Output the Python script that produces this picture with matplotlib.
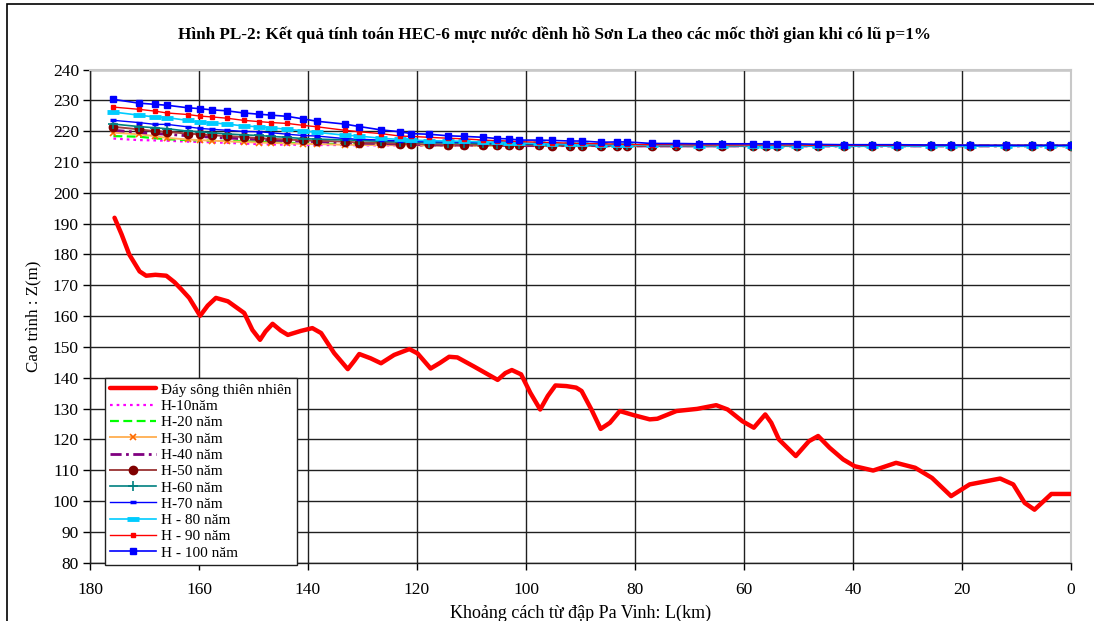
import matplotlib
matplotlib.use("Agg")
import matplotlib.pyplot as plt
from matplotlib.patches import Rectangle

plt.rcParams['font.family'] = ['Liberation Serif', 'DejaVu Serif']

# ---------------- data ----------------
ground_L = [175.5, 174.2, 172.8, 170.9, 169.7, 168.0, 166.0, 164.5, 163.3, 161.8,
            159.8, 158.4, 156.9, 154.7, 151.7, 150.2, 148.8, 147.8, 146.5, 145.0,
            143.7, 141.3, 139.2, 137.6, 135.2, 132.7, 131.5, 130.6, 128.5, 126.6,
            124.2, 121.4, 119.9, 117.5, 115.8, 114.1, 112.6, 109.5,
            105.2, 103.8, 102.6, 100.9, 99.2, 97.4, 96.0, 94.6, 92.6, 90.8, 89.8,
            88.0, 86.3, 84.6, 82.8, 80.1, 77.3, 75.9, 72.4, 68.6, 65.1,
            63.0, 60.3, 58.2, 56.1, 55.0, 53.6, 50.5, 48.1, 46.4, 44.3,
            41.8, 39.7, 36.3, 32.1, 28.6, 25.5, 22.0, 18.6, 13.0, 10.6,
            8.5, 6.7, 3.6, 0.0]
ground_Z = [191.9, 186.5, 180.0, 174.5, 173.1, 173.4, 173.1, 171.0, 168.8, 165.9,
            160.1, 163.4, 165.9, 164.8, 161.0, 155.5, 152.3, 155.0, 157.5, 155.3,
            153.9, 155.2, 156.1, 154.5, 148.0, 142.8, 145.5, 147.7, 146.3, 144.7,
            147.4, 149.3, 147.9, 143.0, 144.8, 146.8, 146.6, 143.6,
            139.3, 141.5, 142.5, 141.1, 135.1, 129.7, 134.1, 137.5, 137.3, 136.8, 135.7,
            129.7, 123.4, 125.4, 129.2, 127.8, 126.5, 126.7, 129.2, 129.9, 131.1,
            129.7, 125.9, 123.8, 128.1, 125.4, 120.0, 114.6, 119.4, 121.1, 117.3,
            113.5, 111.3, 109.9, 112.4, 110.8, 107.5, 101.6, 105.4, 107.3, 105.4,
            99.4, 97.2, 102.3, 102.3]

stations = [175.7, 171.1, 168.1, 165.9, 162.1, 159.9, 157.6, 154.9, 151.8, 149.0,
            146.8, 143.8, 141.0, 138.3, 133.3, 130.6, 126.6, 123.1, 121.1, 117.8,
            114.3, 111.3, 107.8, 105.3, 103.2, 101.2, 97.6, 95.3, 92.0, 89.8,
            86.3, 83.3, 81.4, 76.9, 72.5, 68.3, 64.1, 58.4, 56.0, 53.9,
            50.3, 46.4, 41.7, 36.6, 32.0, 25.6, 22.1, 18.5, 11.9, 7.1,
            3.8, 0.0]

H10 = [217.6, 217.1, 217.0, 216.9, 216.6, 216.5, 216.4, 216.2, 216.0, 215.8,
       215.7, 215.6, 215.6, 215.5, 215.5, 215.4, 215.4, 215.4, 215.3, 215.3,
       215.3, 215.3, 215.3, 215.3, 215.3, 215.2, 215.2, 215.2, 215.2, 215.2,
       215.2, 215.2, 215.2, 215.2, 215.2, 215.2, 215.2, 215.2, 215.2, 215.2,
       215.2, 215.2, 215.2, 215.2, 215.2, 215.2, 215.2, 215.2, 215.2, 215.2,
       215.2, 215.2]
H20 = [218.4, 218.2, 217.7, 217.4, 217.1, 217.0, 216.9, 216.8, 216.7, 216.6,
       216.5, 216.2, 216.1, 215.9, 215.8, 215.7, 215.6, 215.6, 215.5, 215.5,
       215.4, 215.4, 215.4, 215.4, 215.3, 215.3, 215.3, 215.3, 215.3, 215.3,
       215.2, 215.2, 215.2, 215.2, 215.2, 215.2, 215.2, 215.2, 215.2, 215.2,
       215.2, 215.2, 215.2, 215.2, 215.2, 215.2, 215.2, 215.2, 215.2, 215.2,
       215.2, 215.2]
H30 = [219.5, 219.0, 218.4, 217.8, 217.3, 217.1, 216.9, 216.7, 216.5, 216.3,
       216.2, 216.0, 215.9, 215.8, 215.6, 215.5, 215.5, 215.4, 215.4, 215.4,
       215.3, 215.3, 215.3, 215.3, 215.3, 215.3, 215.3, 215.2, 215.2, 215.2,
       215.2, 215.2, 215.2, 215.2, 215.2, 215.2, 215.2, 215.2, 215.2, 215.2,
       215.2, 215.2, 215.2, 215.2, 215.2, 215.2, 215.2, 215.2, 215.2, 215.2,
       215.2, 215.2]
H40 = [220.3, 219.6, 219.2, 219.0, 218.5, 218.3, 218.0, 217.8, 217.5, 217.3,
       217.1, 216.9, 216.7, 216.6, 216.3, 216.1, 216.0, 215.8, 215.7, 215.6,
       215.5, 215.5, 215.4, 215.4, 215.4, 215.3, 215.3, 215.3, 215.3, 215.3,
       215.3, 215.2, 215.2, 215.2, 215.2, 215.2, 215.2, 215.2, 215.2, 215.2,
       215.2, 215.2, 215.2, 215.2, 215.2, 215.2, 215.2, 215.2, 215.2, 215.2,
       215.2, 215.2]
H50 = [221.4, 220.6, 220.0, 219.8, 219.2, 219.0, 218.7, 218.4, 218.1, 217.7,
       217.5, 217.3, 217.0, 216.9, 216.6, 216.3, 216.2, 215.9, 215.8, 215.7,
       215.6, 215.6, 215.5, 215.5, 215.4, 215.4, 215.4, 215.3, 215.3, 215.3,
       215.3, 215.3, 215.3, 215.2, 215.2, 215.2, 215.2, 215.2, 215.2, 215.2,
       215.2, 215.2, 215.2, 215.2, 215.2, 215.2, 215.2, 215.2, 215.2, 215.2,
       215.2, 215.2]
H60 = [222.3, 221.5, 221.1, 220.8, 220.0, 219.8, 219.5, 219.1, 218.8, 218.6,
       218.3, 218.0, 217.6, 217.4, 217.2, 217.0, 216.7, 216.5, 216.4, 216.3,
       216.2, 216.1, 216.0, 215.9, 215.9, 215.8, 215.7, 215.7, 215.6, 215.6,
       215.5, 215.5, 215.5, 215.4, 215.4, 215.4, 215.4, 215.3, 215.3, 215.3,
       215.3, 215.3, 215.3, 215.3, 215.3, 215.3, 215.3, 215.3, 215.3, 215.3,
       215.3, 215.3]
H70 = [223.5, 222.8, 222.2, 222.2, 221.4, 220.9, 220.6, 220.3, 219.9, 219.8,
       219.5, 219.0, 218.6, 218.4, 217.6, 217.4, 217.1, 216.8, 216.7, 216.6,
       216.5, 216.4, 216.3, 216.2, 216.1, 216.0, 215.9, 215.8, 215.7, 215.7,
       215.6, 215.6, 215.5, 215.4, 215.4, 215.4, 215.4, 215.4, 215.4, 215.4,
       215.4, 215.3, 215.3, 215.3, 215.3, 215.3, 215.3, 215.3, 215.3, 215.3,
       215.3, 215.3]
H80 = [226.2, 225.2, 224.6, 224.4, 223.5, 222.9, 222.7, 222.3, 221.7, 221.4,
       221.1, 220.6, 220.1, 219.6, 218.7, 218.4, 217.7, 217.3, 217.1, 216.9,
       216.8, 216.7, 216.5, 216.4, 216.3, 216.2, 216.0, 215.9, 215.8, 215.7,
       215.6, 215.6, 215.5, 215.4, 215.4, 215.3, 215.3, 215.3, 215.3, 215.3,
       215.3, 215.2, 215.2, 215.2, 215.2, 215.2, 215.2, 215.2, 215.2, 215.2,
       215.2, 215.2]
H90 = [227.8, 227.1, 226.5, 225.9, 225.4, 224.9, 224.6, 224.2, 223.5, 223.1,
       222.8, 222.5, 221.9, 221.4, 220.3, 219.8, 219.2, 218.4, 218.3, 218.0,
       217.7, 217.5, 217.1, 216.9, 216.8, 216.6, 216.4, 216.3, 216.1, 216.0,
       215.9, 215.8, 215.7, 215.6, 215.6, 215.5, 215.5, 215.5, 215.5, 215.5,
       215.5, 215.4, 215.4, 215.4, 215.4, 215.4, 215.4, 215.4, 215.4, 215.4,
       215.4, 215.4]
H100 = [230.3, 229.1, 228.7, 228.4, 227.6, 227.3, 226.9, 226.6, 225.9, 225.5,
        225.2, 224.8, 224.0, 223.2, 222.3, 221.5, 220.4, 219.8, 219.2, 219.0,
        218.5, 218.3, 218.0, 217.6, 217.5, 217.1, 217.1, 217.0, 216.8, 216.8,
        216.4, 216.5, 216.5, 216.0, 216.0, 215.9, 215.9, 215.9, 215.9, 215.9,
        215.9, 215.7, 215.6, 215.6, 215.6, 215.5, 215.5, 215.4, 215.4, 215.4,
        215.4, 215.4]

labels = ["Đáy sông thiên nhiên", "H-10năm", "H-20 năm", "H-30 năm", "H-40 năm",
          "H-50 năm", "H-60 năm", "H-70 năm", "H - 80 năm", "H - 90 năm",
          "H - 100 năm"]
x_ticks = [180, 160, 140, 120, 100, 80, 60, 40, 20, 0]
y_ticks = [80, 90, 100, 110, 120, 130, 140, 150, 160, 170, 180, 190, 200, 210, 220, 230, 240]

title = "Hình PL-2: Kết quả tính toán HEC-6 mực nước dềnh hồ Sơn La theo các mốc thời gian khi có lũ p=1%"
xlabel = "Khoảng cách từ đập Pa Vinh: L(km)"
ylabel = "Cao trình : Z(m)"

# ---------------- figure ----------------
fig = plt.figure(figsize=(10.94, 6.21), dpi=100)
ax = fig.add_axes([90/1094, 1-562.7/621, 981/1094, (562.7-69.5)/621])

ax.plot(ground_L, ground_Z, color='#ff0000', lw=3.2, solid_joinstyle='round',
        solid_capstyle='round', label=labels[0], zorder=3)
ax.plot(stations, H10, color='#ff00ff', lw=1.6, ls=(0, (1.2, 1.8)), label=labels[1], zorder=4)
ax.plot(stations, H20, color='#00ff00', lw=1.6, ls=(0, (4, 2)), label=labels[2], zorder=4)
ax.plot(stations, H30, color='#ffb35c', lw=1.4, marker='x', ms=5, mew=1.2,
        mec='#ff6a00', label=labels[3], zorder=4)
ax.plot(stations, H40, color='#800080', lw=2.0, ls=(0, (4, 1.6, 1, 1.6)), label=labels[4], zorder=4)
ax.plot(stations, H50, color='#a04040', lw=1.4, marker='o', ms=6, mfc='#800000',
        mec='#800000', label=labels[5], zorder=4)
ax.plot(stations, H60, color='#008080', lw=1.2, marker='+', ms=7, mew=1.2,
        label=labels[6], zorder=4)
ax.plot(stations, H70, color='#0000ff', lw=1.0, marker='_', ms=5, mew=2.5,
        label=labels[7], zorder=4)
ax.plot(stations, H80, color='#00ccff', lw=1.2, marker='_', ms=8, mew=3.5,
        label=labels[8], zorder=4)
ax.plot(stations, H90, color='#ff0000', lw=1.0, marker='s', ms=2.2,
        label=labels[9], zorder=4)
ax.plot(stations, H100, color='#0000ff', lw=1.2, marker='s', ms=4.5,
        label=labels[10], zorder=5)

ax.set_xlim(180, 0)
ax.set_ylim(80, 240)
ax.set_xticks(x_ticks)
ax.set_yticks(y_ticks)
ax.tick_params(axis='both', direction='out', length=5, width=1, labelsize=12.5,
               colors='black')
ax.tick_params(axis='x', pad=9)
ax.tick_params(axis='y', pad=3)
ax.grid(True, color='#202020', lw=1.0)
ax.set_axisbelow(True)
for s in ['top', 'right']:
    ax.spines[s].set_color('#c8c8c8')
    ax.spines[s].set_linewidth(1.5)
for s in ['left', 'bottom']:
    ax.spines[s].set_color('#202020')
    ax.spines[s].set_linewidth(1.0)

ax.set_xlabel(xlabel, fontsize=13, labelpad=5)
ax.set_ylabel(ylabel, fontsize=12.2, labelpad=8)

fig.text(555/1094, 1-35/621, title, ha='center', va='center', fontsize=12.3,
         fontweight='bold')

leg = ax.legend(loc='upper left', bbox_to_anchor=(0.0153, 0.375), borderaxespad=0,
                fontsize=11, frameon=True, fancybox=False, framealpha=1,
                edgecolor='#202020', labelspacing=0.17, handlelength=3.0,
                handletextpad=0.3, borderpad=0.35)
leg.get_frame().set_linewidth(1.0)
leg.set_zorder(10)

# outer chart border
fig.patches.append(Rectangle((7/1094, -0.1), 1.2, 1.1 - 4/621,
                             transform=fig.transFigure, fill=False,
                             edgecolor='black', lw=1.2))

fig.savefig("out.png", dpi=100)
